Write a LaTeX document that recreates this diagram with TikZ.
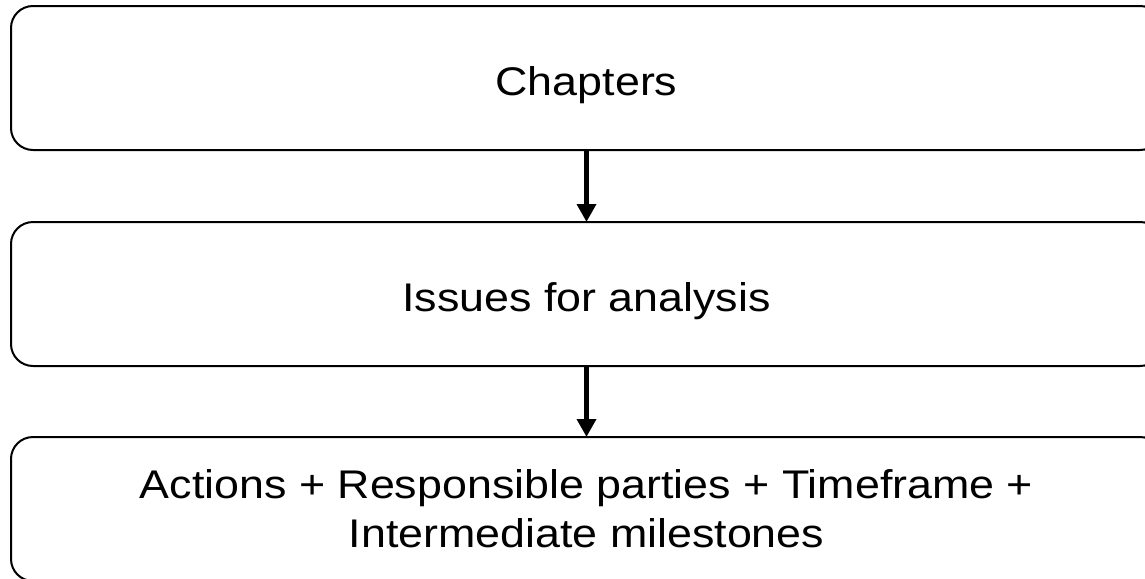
\documentclass[tikz,border=0pt]{standalone}
\usepackage{fontspec}
\setmainfont[FakeStretch=1.12]{Liberation Sans}
\usetikzlibrary{arrows.meta}
\tikzset{
  caja/.style={draw, line width=1.5pt, rounded corners=16.5pt, minimum width=863.25pt,
    minimum height=108pt, inner sep=0pt, outer sep=0pt, align=center,
    font=\fontsize{30}{37}\selectfont},
  unalinea/.style={text height=27pt, text depth=1.5pt},
  flecha/.style={line width=3.5pt, -{Triangle[width=14pt,length=13.5pt]}}
}
\begin{document}
\begin{tikzpicture}[x=0.75pt, y=-0.75pt]
      % Marco de la figura
      \useasboundingbox (0, 0) rectangle (1145, 578);

      % Cajas
      \node[caja, unalinea] (capitulos) at (586.5, 78) {Chapters};
      \node[caja, unalinea] (temas) at (586.5, 294) {Issues for analysis};
      \node[caja] (acciones) at (586.5, 509) {Actions + Responsible parties + Timeframe +\\Intermediate milestones};

      % Flechas entre cajas
      \draw[flecha] (capitulos) -- (temas);
      \draw[flecha] (temas) -- (acciones);
    \end{tikzpicture}
\end{document}
